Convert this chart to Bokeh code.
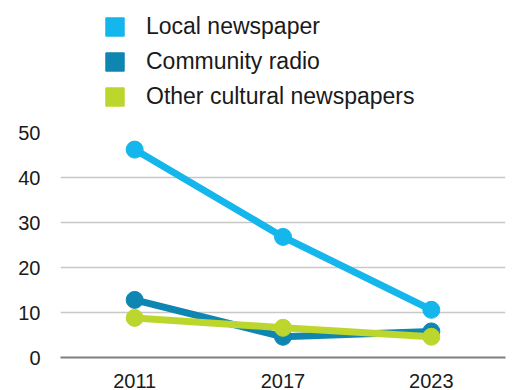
from bokeh.plotting import figure
from bokeh.models import FactorRange, Range1d, Legend, LegendItem, ColumnDataSource, FixedTicker
from bokeh.layouts import column
from bokeh.embed import file_html
from bokeh.resources import INLINE

years = ["2011", "2017", "2023"]
local_newspaper = [46.2, 26.8, 10.6]
community_radio = [12.8, 4.6, 5.8]
other_cultural = [8.8, 6.6, 4.6]
series_names = ["Local newspaper", "Community radio", "Other cultural newspapers"]
colors = ["#14B6EB", "#0F86B1", "#BDD62E"]
y_ticks = [0, 10, 20, 30, 40, 50]

FONT = "Liberation Sans"

# main chart
p = figure(width=512, height=270, x_range=FactorRange(factors=years, range_padding=0),
           y_range=Range1d(0, 50), output_backend="svg", toolbar_location=None,
           min_border_left=60, min_border_right=7, min_border_top=12, min_border_bottom=32)
p.outline_line_color = None

p.xgrid.grid_line_color = None
p.ygrid.grid_line_color = "#C8C8C8"
p.ygrid.grid_line_width = 1.5
p.yaxis.ticker = FixedTicker(ticks=y_ticks)
p.yaxis.axis_line_color = None
p.yaxis.major_tick_line_color = None
p.yaxis.minor_tick_line_color = None
p.yaxis.major_label_text_font = FONT
p.yaxis.major_label_text_font_size = "20px"
p.yaxis.major_label_text_color = "#1A1A1A"
p.yaxis.major_label_standoff = 14

p.xaxis.axis_line_color = "#7F7F7F"
p.xaxis.axis_line_width = 2
p.xaxis.major_tick_line_color = None
p.xaxis.minor_tick_line_color = None
p.xaxis.major_label_text_font = FONT
p.xaxis.major_label_text_font_size = "20px"
p.xaxis.major_label_text_color = "#1A1A1A"
p.xaxis.major_label_standoff = 10

# legend figure
lg = figure(width=512, height=120, x_range=Range1d(0, 512), y_range=Range1d(0, 120),
            output_backend="svg", toolbar_location=None,
            min_border_left=60, min_border_right=7, min_border_top=0, min_border_bottom=0)
lg.axis.visible = False
lg.grid.grid_line_color = None
lg.outline_line_color = None

items = []
for name, vals, col in zip(series_names, [local_newspaper, community_radio, other_cultural], colors):
    src = ColumnDataSource(dict(x=years, y=vals))
    p.line("x", "y", source=src, line_color=col, line_width=7)
    p.scatter("x", "y", source=src, size=17, fill_color=col, line_color=col)
    # off-screen swatch renderer used only for the legend
    dummy = lg.quad(left=[-200], right=[-190], top=[-200], bottom=[-190], fill_color=col, line_color=col)
    items.append(LegendItem(label=name, renderers=[dummy]))

legend = Legend(items=items, location=(43, 10), orientation="vertical",
                glyph_width=23, glyph_height=23, label_height=27,
                label_text_font=FONT, label_text_font_size="23px", label_text_color="#1A1A1A",
                label_standoff=20, spacing=8, padding=0, margin=0,
                border_line_color=None, background_fill_alpha=0)
lg.add_layout(legend, "center")

layout = column(lg, p, spacing=0)
open("out.html", "w").write(file_html(layout, INLINE))
